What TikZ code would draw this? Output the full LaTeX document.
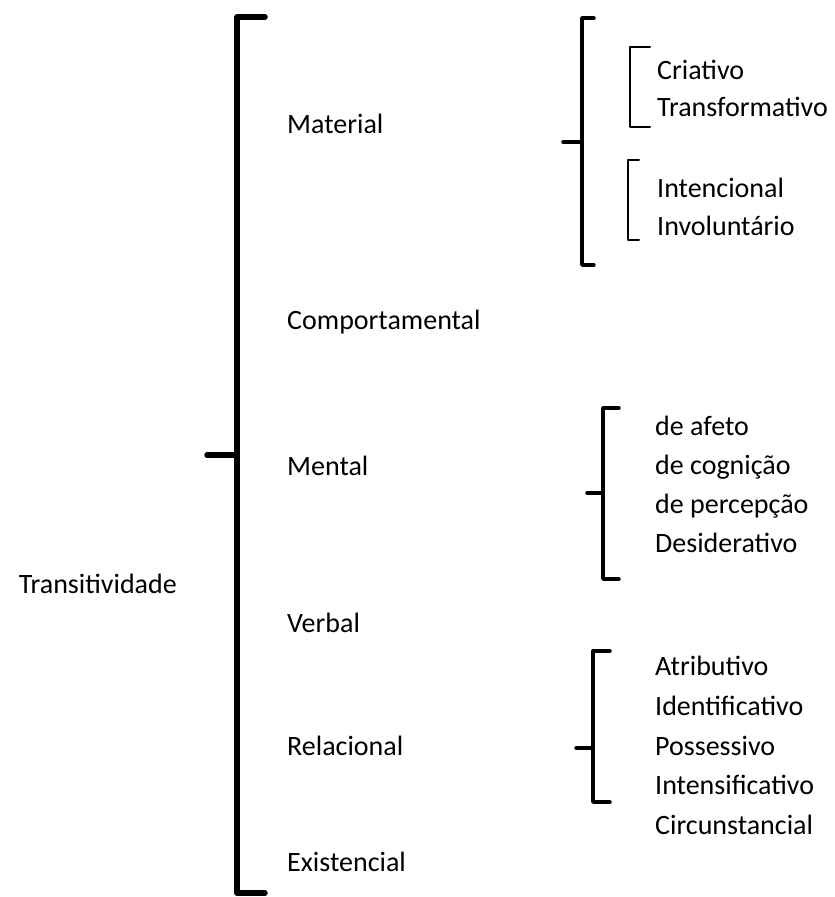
\documentclass[tikz,border=0pt]{standalone}
\usepackage{fontspec}
\setmainfont{Carlito}
\usetikzlibrary{positioning}
\tikzset{
  lbl/.style={anchor=base west, inner sep=0pt, font=\fontsize{28}{30}\selectfont},
  bigbrk/.style={line width=5.5pt},
  midbrk/.style={line width=3.4pt},
  smlbrk/.style={line width=2pt},
  every picture/.style={line cap=round, line join=round}
}

\begin{document}
\begin{tikzpicture}[x=1pt, y=-1pt]
  \useasboundingbox (0,0) rectangle (835,897);

  % main bracket
  \draw[bigbrk] (265,17) -- (237,17) -- (237,893) -- (265,893);
  \draw[bigbrk] (207,455) -- (237,455);
  \node[lbl, anchor=base east] (trans) at (177,593) {Transitividade};

  \node[lbl] (mat)  at (287,133) {Material};
  \node[lbl] (comp) at (287,329) {Comportamental};
  \node[lbl] (ment) at (287,475) {Mental};
  \node[lbl] (verb) at (287,632) {Verbal};
  \node[lbl] (rel)  at (287,755) {Relacional};
  \node[lbl] (exi)  at (287,871) {Existencial};

  % material
  \draw[midbrk] (594,18) -- (582,18) -- (582,265) -- (594,265);
  \draw[midbrk] (563,142) -- (582,142);
  \draw[smlbrk] (650,47) -- (630,47) -- (630,127) -- (650,127);
  \draw[smlbrk] (639,160) -- (628,160) -- (628,240) -- (639,240);
  \node[lbl] (cria) at (657,79)  {Criativo};
  \node[lbl] (tran) at (657,116) {Transformativo};
  \node[lbl] (inte) at (657,197) {Intencional};
  \node[lbl] (invo) at (657,235) {Involuntário};

  % mental
  \draw[midbrk] (619,408) -- (603,408) -- (603,579) -- (619,579);
  \draw[midbrk] (587,493) -- (603,493);
  \node[lbl] (afe) at (655,435) {de afeto};
  \node[lbl] (cog) at (655,474) {de cognição};
  \node[lbl] (per) at (655,513) {de percepção};
  \node[lbl] (des) at (655,552) {Desiderativo};

  % relacional
  \draw[midbrk] (610,651) -- (593,651) -- (593,802) -- (610,802);
  \draw[midbrk] (576,748) -- (593,748);
  \node[lbl] (atr) at (655,675) {Atributivo};
  \node[lbl] (ide) at (655,715) {Identificativo};
  \node[lbl] (pos) at (655,755) {Possessivo};
  \node[lbl] (int) at (655,794) {Intensificativo};
  \node[lbl] (cir) at (655,834) {Circunstancial};
\end{tikzpicture}
\end{document}
